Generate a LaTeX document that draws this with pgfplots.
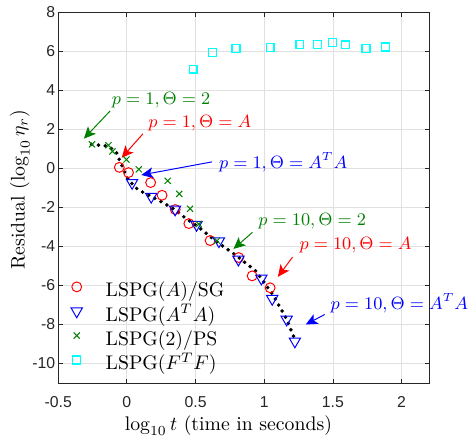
\documentclass[border=0pt]{standalone}
\usepackage{pgfplots}
\pgfplotsset{compat=1.18}
\usepackage{fontspec}
\newfontfamily\tickfont{Liberation Sans}
\usetikzlibrary{arrows.meta}
\definecolor{mgreen}{rgb}{0,0.5,0}
\definecolor{mcyan}{rgb}{0,1,1}
\definecolor{axgray}{rgb}{0.15,0.15,0.15}
\begin{document}
\begin{tikzpicture}
\begin{axis}[
  scale only axis, width=188pt, height=188pt,
  xmin=-0.5, xmax=2.2, ymin=-11, ymax=8,
  xtick={-0.5,0,0.5,1,1.5,2}, ytick={-10,-8,-6,-4,-2,0,2,4,6,8},
  xticklabels={-0.5,0,0.5,1,1.5,2},
  yticklabels={-10,-8,-6,-4,-2,0,2,4,6,8},
  tick label style={font=\tickfont\fontsize{8}{9.6}\selectfont, color=axgray},
  xticklabel style={yshift=-3.3pt},
  yticklabel style={xshift=2pt},
  tick align=inside, major tick length=2.2pt,
  every tick/.style={axgray, line width=0.4pt},
  grid=major, grid style={color=black!12, line width=0.4pt},
  axis line style={color=axgray, line width=0.4pt},
  xlabel={$\log_{10} t$ (time in seconds)},
  ylabel={Residual ($\log_{10}\eta_r$)},
  xlabel style={at={(axis description cs:0.459,-0.1144)}, anchor=center},
  ylabel style={at={(axis description cs:-0.1037,0.521)}, anchor=center},
  clip=false,
  legend cell align=left,
  legend image code/.code={\path (0pt,0pt) (23.5pt,0pt); \draw[#1] plot coordinates {(9pt,2.5pt)};},
  legend style={draw=none, fill=none, inner sep=0pt, row sep=2.35pt,
    at={(axis cs:-0.5,-11)}, anchor=south west, yshift=4pt,
    nodes={inner sep=0pt, text height=7.5pt, text depth=2.5pt}},
]
\addplot[only marks, mark=o, red, mark size=2.5pt, mark options={line width=0.5pt}] coordinates {
(-0.055,0.05) (0.012,-0.22) (0.173,-0.73) (0.256,-1.38) (0.352,-2.11)
(0.451,-2.83) (0.606,-3.70) (0.814,-4.57) (0.912,-5.51) (1.043,-6.12)};
\addlegendentry{LSPG$(A)$/SG}
\addplot[only marks, mark=triangle, blue, mark size=3.3pt, mark options={rotate=180, line width=0.5pt}] coordinates {
(0.038,-0.74) (0.177,-1.45) (0.351,-2.10) (0.507,-2.89) (0.670,-3.73)
(0.812,-4.67) (0.979,-5.64) (1.058,-6.68) (1.163,-7.74) (1.223,-8.86)};
\addlegendentry{LSPG$(A^TA)$}
\addplot[only marks, mark=x, mgreen, mark size=2.2pt, mark options={line width=0.5pt}] coordinates {
(-0.254,1.23) (-0.134,1.18) (-0.105,0.87) (-0.003,0.45) (0.087,-0.05)
(0.297,-0.64) (0.381,-1.31) (0.460,-2.07) (0.523,-2.86) (0.656,-3.71)};
\addlegendentry{LSPG$(2)$/PS}
\addplot[only marks, mark=square, mcyan, mark size=2pt, mark options={line width=0.7pt}] coordinates {
(0.483,5.08) (0.625,5.94) (0.794,6.14) (1.043,6.19) (1.259,6.34)
(1.386,6.34) (1.496,6.44) (1.591,6.33) (1.740,6.14) (1.881,6.21)};
\addlegendentry{LSPG$(F^TF)$}
\addplot[black, line width=2pt, line cap=round, dash pattern=on 0pt off 3.5pt, forget plot] coordinates {
(-0.257,1.23) (-0.134,1.13) (-0.076,0.82) (-0.048,0.32) (0.010,-0.59)
(0.081,-1.10) (0.153,-1.35) (0.261,-1.75) (0.347,-2.11) (0.419,-2.51)
(0.512,-2.96) (0.656,-3.77) (0.799,-4.48) (0.943,-5.29) (1.065,-6.50)
(1.158,-7.66) (1.223,-8.77)};
% annotations
\begin{scope}[every node/.style={font=\fontsize{9}{10.5}\selectfont, inner sep=0pt, anchor=west}]
\draw[mgreen, line width=0.5pt, -{Stealth[length=6pt,width=5.5pt,inset=1.5pt]}] (axis cs:-0.122,2.94) -- (axis cs:-0.313,1.52);
\node[mgreen] at (axis cs:-0.112,3.49) {$p=1,\Theta=2$};
\draw[red, line width=0.5pt, -{Stealth[length=6pt,width=5.5pt,inset=1.5pt]}] (axis cs:0.117,1.77) -- (axis cs:-0.038,0.54);
\node[red] at (axis cs:0.153,2.29) {$p=1,\Theta=A$};
\draw[blue, line width=0.5pt, -{Stealth[length=6pt,width=5.5pt,inset=1.5pt]}] (axis cs:0.62,0.33) -- (axis cs:0.105,-0.34);
\node[blue] at (axis cs:0.668,0.32) {$p=1,\Theta=A^TA$};
\draw[mgreen, line width=0.5pt, -{Stealth[length=6pt,width=5.5pt,inset=1.5pt]}] (axis cs:0.914,-3.28) -- (axis cs:0.776,-4.13);
\node[mgreen] at (axis cs:0.955,-2.70) {$p=10,\Theta=2$};
\draw[red, line width=0.5pt, -{Stealth[length=6pt,width=5.5pt,inset=1.5pt]}] (axis cs:1.206,-4.55) -- (axis cs:1.099,-5.56);
\node[red] at (axis cs:1.254,-3.96) {$p=10,\Theta=A$};
\draw[blue, line width=0.5pt, -{Stealth[length=6pt,width=5.5pt,inset=1.5pt]}] (axis cs:1.44,-7.49) -- (axis cs:1.302,-8.0);
\node[blue] at (axis cs:1.481,-6.90) {$p=10,\Theta=A^TA$};
\end{scope}
\end{axis}
\path (current axis.south west) ++(-29.5pt,-30pt);
\path (current axis.north east) ++(16.5pt,4pt);
\end{tikzpicture}
\end{document}
